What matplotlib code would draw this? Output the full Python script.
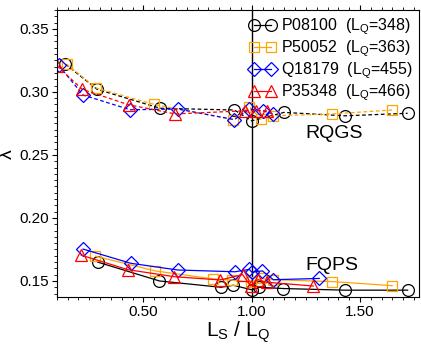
import numpy as np
import matplotlib
matplotlib.use("Agg")
import matplotlib.pyplot as plt
from matplotlib.ticker import MultipleLocator, FormatStrFormatter

plt.rcParams['font.family'] = ['Liberation Sans', 'DejaVu Sans']

# RQGS (dashed) data
rq_p08100_x = [0.14, 0.286, 0.577, 0.92, 1.0, 1.149, 1.43, 1.72]
rq_p08100_y = [0.322, 0.302, 0.287, 0.2856, 0.277, 0.2837, 0.281, 0.283]
rq_p50052_x = [0.145, 0.282, 0.55, 0.912, 0.989, 1.043, 1.10, 1.373, 1.648]
rq_p50052_y = [0.322, 0.303, 0.290, 0.278, 0.288, 0.2785, 0.281, 0.2825, 0.2856]
rq_q18179_x = [0.109, 0.221, 0.439, 0.659, 0.92, 0.989, 1.05, 1.10]
rq_q18179_y = [0.321, 0.2975, 0.2858, 0.2864, 0.278, 0.2864, 0.285, 0.2825]
rq_p35348_x = [0.101, 0.217, 0.431, 0.647, 0.97, 1.02, 1.07]
rq_p35348_y = [0.3206, 0.302, 0.2898, 0.2825, 0.285, 0.285, 0.285]

# FQPS (solid) data
fq_p08100_x = [0.288, 0.574, 0.858, 0.915, 1.0, 1.034, 1.146, 1.43, 1.72]
fq_p08100_y = [0.165, 0.150, 0.145, 0.1466, 0.143, 0.145, 0.144, 0.1427, 0.1427]
fq_p50052_x = [0.278, 0.554, 0.823, 0.908, 0.995, 1.043, 1.10, 1.373, 1.648]
fq_p50052_y = [0.1697, 0.158, 0.1516, 0.1508, 0.149, 0.152, 0.151, 0.1495, 0.1463]
fq_q18179_x = [0.221, 0.442, 0.659, 0.923, 0.989, 1.0, 1.049, 1.10, 1.312]
fq_q18179_y = [0.1753, 0.164, 0.1587, 0.1573, 0.1592, 0.157, 0.158, 0.151, 0.152]
fq_p35348_x = [0.212, 0.427, 0.642, 0.854, 0.958, 0.995, 1.028, 1.069, 1.284]
fq_p35348_y = [0.1705, 0.159, 0.1534, 0.1508, 0.155, 0.146, 0.151, 0.149, 0.146]

labels = ['P08100  (L$_\\mathregular{Q}$=348)', 'P50052  (L$_\\mathregular{Q}$=363)',
          'Q18179  (L$_\\mathregular{Q}$=455)', 'P35348  (L$_\\mathregular{Q}$=466)']
colors = ['black', 'orange', 'blue', 'red']
markers = ['o', 's', 'D', '^']
msizes = [8.5, 7.5, 7, 8.5]

rq = [(rq_p08100_x, rq_p08100_y), (rq_p50052_x, rq_p50052_y),
      (rq_q18179_x, rq_q18179_y), (rq_p35348_x, rq_p35348_y)]
fq = [(fq_p08100_x, fq_p08100_y), (fq_p50052_x, fq_p50052_y),
      (fq_q18179_x, fq_q18179_y), (fq_p35348_x, fq_p35348_y)]

fig = plt.figure(figsize=(4.21, 3.54), dpi=100)
ax = fig.add_axes([0.135, 0.16, 0.86, 0.812])

ax.axvline(1.0, color='black', lw=1.0, zorder=0)

for i in range(4):
    ax.plot(rq[i][0], rq[i][1], ls='--', dashes=(3, 2), lw=0.9, color=colors[i],
            marker=markers[i], ms=msizes[i], mfc='none', mew=0.9)
    ax.plot(fq[i][0], fq[i][1], ls='-', lw=0.9, color=colors[i],
            marker=markers[i], ms=msizes[i], mfc='none', mew=0.9)

leg_handles = []
for i in range(4):
    lh, = ax.plot([], [], ls='-', lw=0.9, color=colors[i], marker=markers[i],
                  ms=msizes[i], mfc='none', mew=0.9)
    leg_handles.append(lh)
ax.legend(leg_handles, labels, loc='upper right', frameon=False, fontsize=11.5,
          numpoints=2, handlelength=1.7, handletextpad=0.3, labelspacing=0.1,
          borderaxespad=0.1, borderpad=0.3)

ax.text(1.38, 0.267, 'RQGS', fontsize=14, ha='center', va='center')
ax.text(1.37, 0.1626, 'FQPS', fontsize=14, ha='center', va='center')

ax.set_xlim(0.1, 1.772)
ax.set_ylim(0.137, 0.365)
ax.xaxis.set_major_locator(MultipleLocator(0.5))
ax.xaxis.set_minor_locator(MultipleLocator(0.05))
ax.yaxis.set_major_locator(MultipleLocator(0.05))
ax.yaxis.set_minor_locator(MultipleLocator(0.005))
ax.xaxis.set_major_formatter(FormatStrFormatter('%.2f'))
ax.yaxis.set_major_formatter(FormatStrFormatter('%.2f'))
ax.tick_params(which='both', direction='out', top=True, right=False, labelsize=11, pad=2)
ax.tick_params(which='major', length=3.5)
ax.tick_params(which='minor', length=2)

ax.set_xlabel('L$_\\mathregular{S}$ / L$_\\mathregular{Q}$', fontsize=15, labelpad=0)
ax.set_ylabel('λ', fontsize=14)
ax.yaxis.set_label_coords(-0.112, 0.5)

fig.savefig('out.png', dpi=100)
